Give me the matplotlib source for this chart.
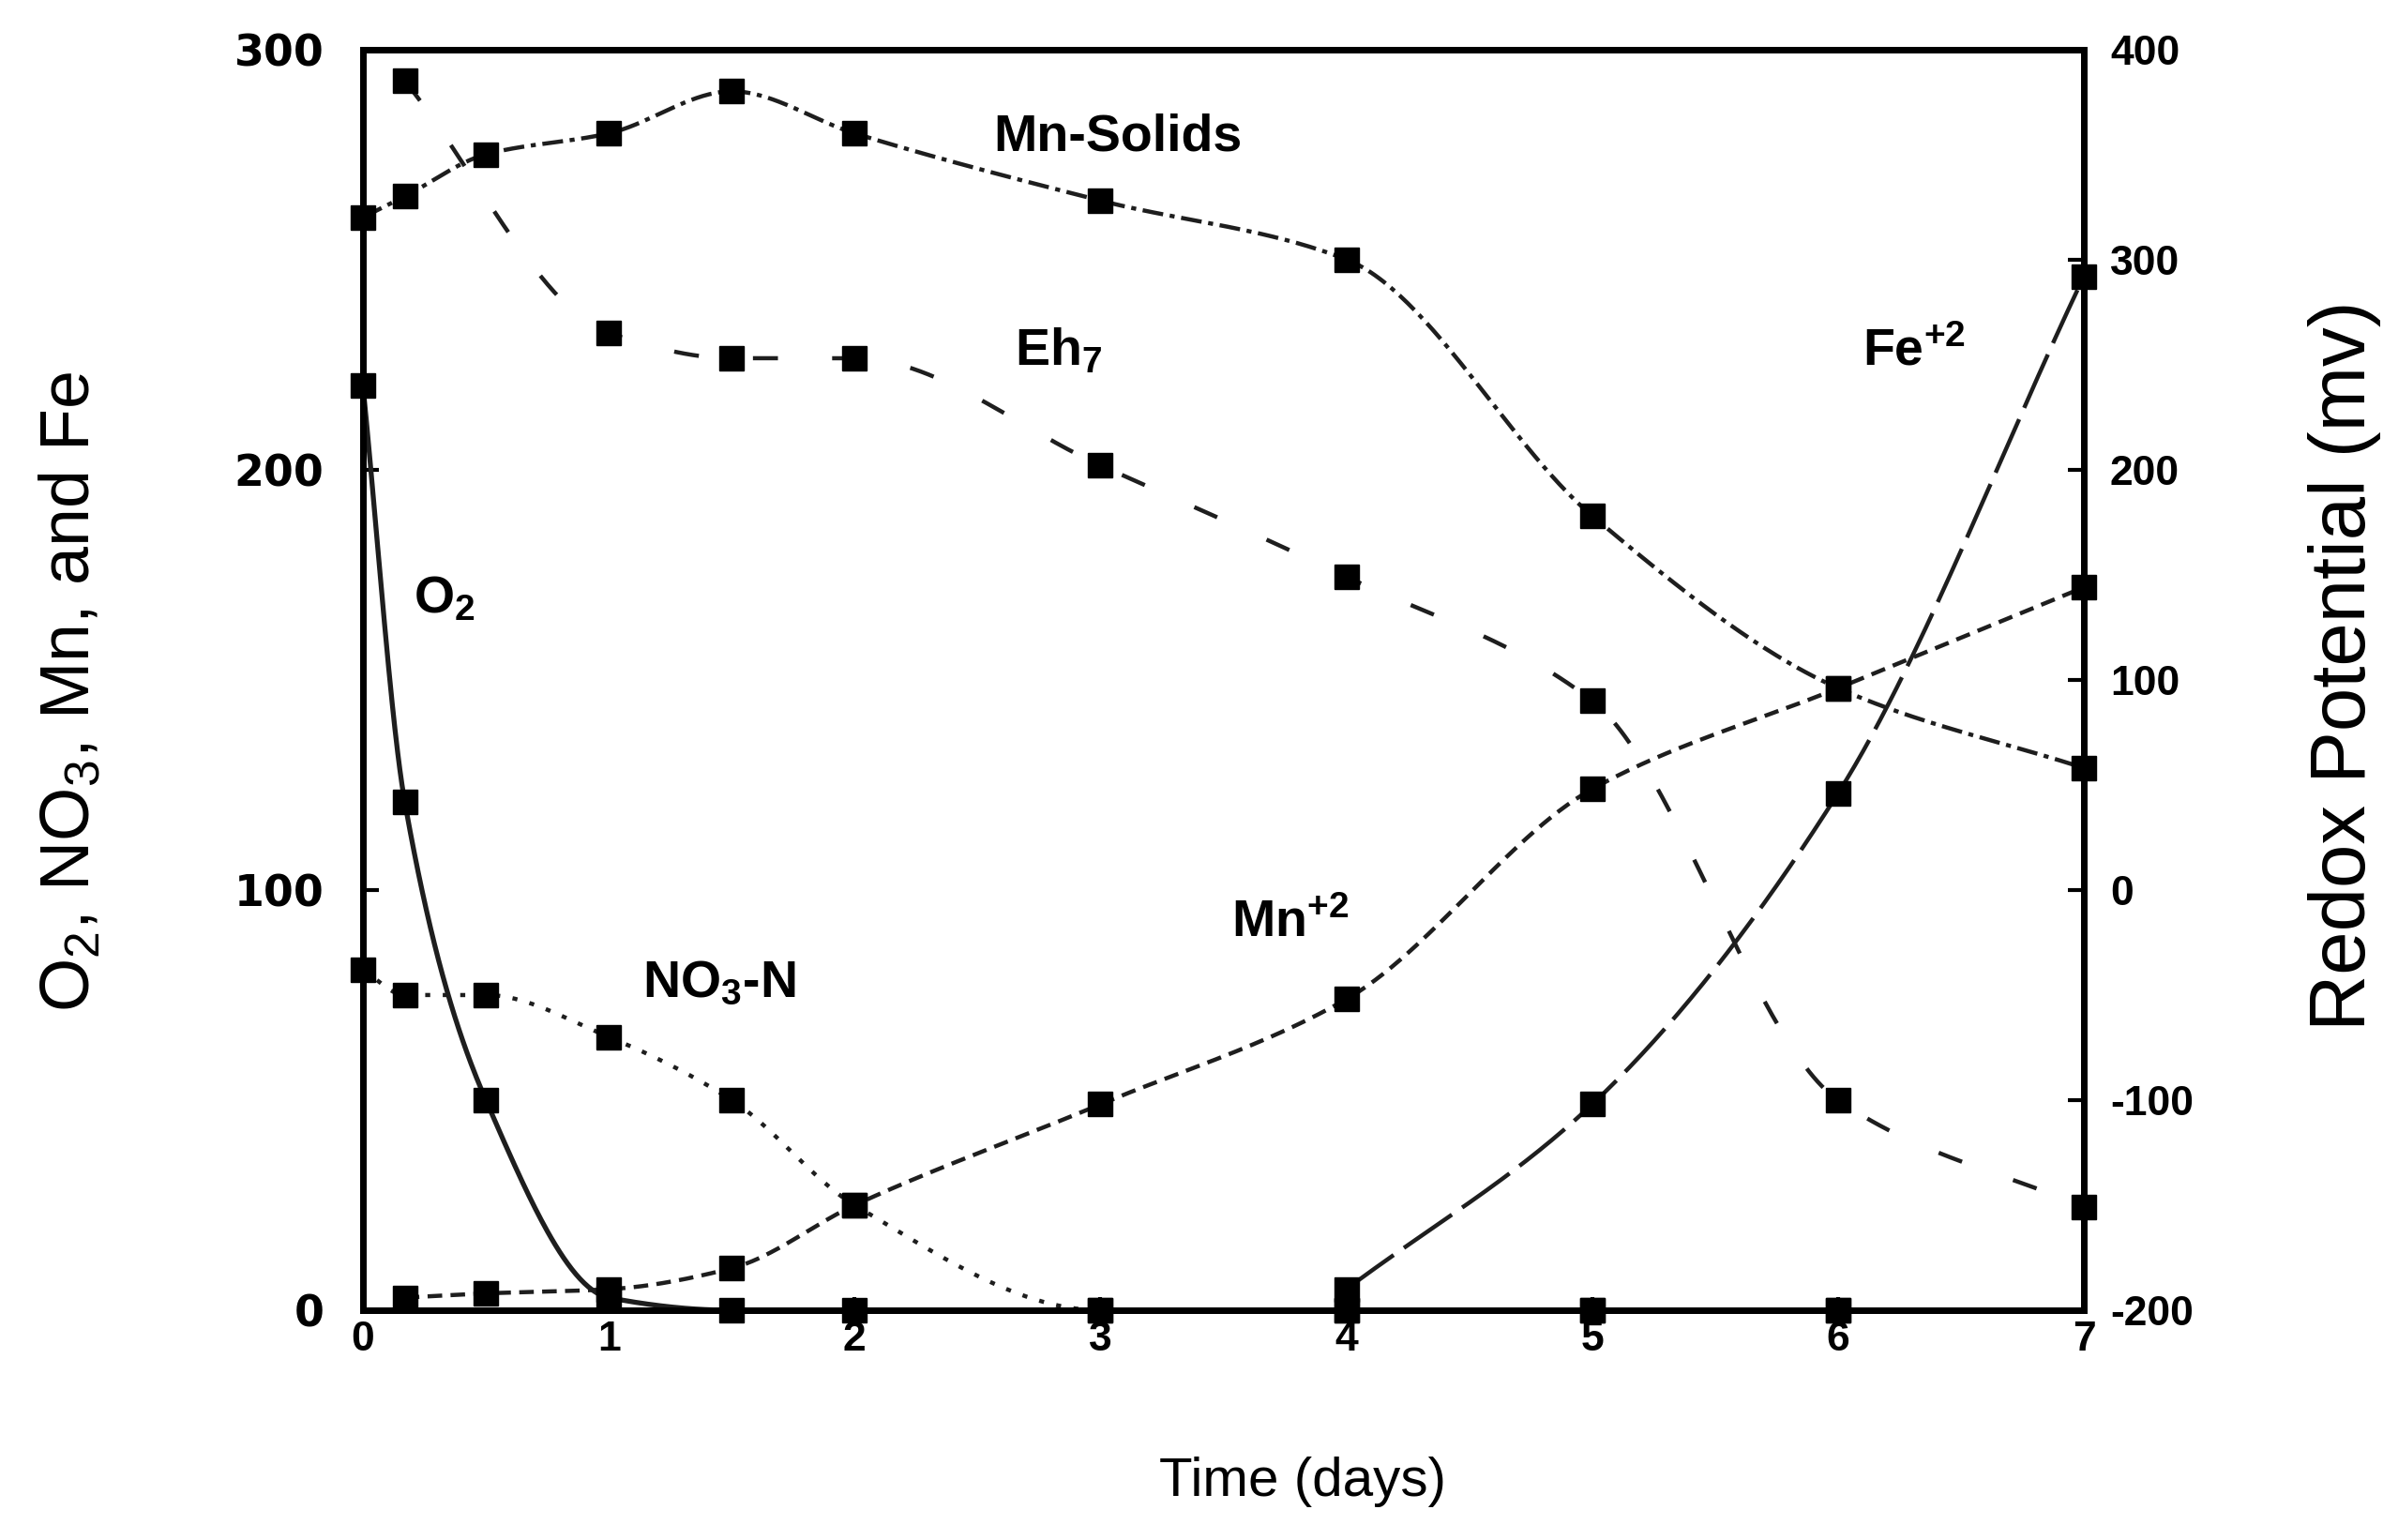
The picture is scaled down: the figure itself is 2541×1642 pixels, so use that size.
import numpy as np
import matplotlib
matplotlib.use('Agg')
import matplotlib.pyplot as plt

plt.rcParams['font.family'] = ['Liberation Sans', 'DejaVu Sans']
plt.rcParams['axes.unicode_minus'] = False
plt.rcParams['mathtext.fontset'] = 'custom'
plt.rcParams['mathtext.rm'] = 'Liberation Sans'
plt.rcParams['mathtext.it'] = 'Liberation Sans:italic'
plt.rcParams['mathtext.bf'] = 'Liberation Sans:bold'

# ---------------- data ----------------
t_o2 = [0, 0.17, 0.5, 1, 1.5, 2, 3, 4, 5, 6]
o2 = [220, 121, 50, 3, 0, 0, 0, 0, 0, 0]

t_no3 = [0, 0.17, 0.5, 1, 1.5, 2, 3, 4, 5, 6]
no3_n = [81, 75, 75, 65, 50, 25, 0, 0, 0, 0]

t_mn2 = [0.17, 0.5, 1, 1.5, 2, 3, 4, 5, 6, 7]
mn2 = [3, 4, 5, 10, 25, 49, 74, 124, 148, 172]

t_mns = [0, 0.17, 0.5, 1, 1.5, 2, 3, 4, 5, 6, 7]
mn_solids = [260, 265, 275, 280, 290, 280, 264, 250, 189, 148, 129]

t_fe = [4, 5, 6, 7]
fe2 = [5, 49, 123, 246]

t_eh = [0.17, 1, 1.5, 2, 3, 4, 5, 6, 7]
eh7 = [385, 265, 253, 253, 202, 149, 90, -100, -151]

x_ticks = [0, 1, 2, 3, 4, 5, 6, 7]
left_ticks = [0, 100, 200, 300]
right_ticks = [-200, -100, 0, 100, 200, 300, 400]

x_label = 'Time (days)'
left_label = r'O$_2$, NO$_3$, Mn, and Fe'
right_label = 'Redox Potential (mv)'


def smooth(x, y, n=60):
    """Monotone cubic (PCHIP) rendering of a line through the data points."""
    x = np.asarray(x, float)
    y = np.asarray(y, float)
    h = np.diff(x)
    d = np.diff(y) / h
    m = np.zeros_like(y)
    m[0], m[-1] = d[0], d[-1]
    for k in range(1, len(x) - 1):
        if d[k - 1] * d[k] > 0:
            w1 = 2 * h[k] + h[k - 1]
            w2 = h[k] + 2 * h[k - 1]
            m[k] = (w1 + w2) / (w1 / d[k - 1] + w2 / d[k])
    xs, ys = [], []
    for k in range(len(x) - 1):
        s = np.linspace(0, 1, n, endpoint=(k == len(x) - 2))
        h00 = 2 * s**3 - 3 * s**2 + 1
        h10 = s**3 - 2 * s**2 + s
        h01 = -2 * s**3 + 3 * s**2
        h11 = s**3 - s**2
        xs.append(x[k] + s * h[k])
        ys.append(h00 * y[k] + h10 * h[k] * m[k] + h01 * y[k + 1] + h11 * h[k] * m[k + 1])
    return np.concatenate(xs), np.concatenate(ys)


fig = plt.figure(figsize=(25.41, 16.42), dpi=100)
ax = fig.add_axes([0.1523, 0.1492, 0.7222, 0.8188])
ax2 = ax.twinx()

line_col = '#1e1e1e'
LW = 3.2
MS = 19

series_left = [
    (t_o2, o2, '-', 3.8),
    (t_no3, no3_n, (0, (1.2, 3.0)), LW),
    (t_mn2, mn2, (0, (3.5, 2.0)), LW),
    (t_mns, mn_solids, (0, (5.0, 1.6, 1.2, 1.6)), LW),
    (t_fe, fe2, (0, (14, 3)), LW),
]
for t, v, ls, lw in series_left:
    xs, ys = smooth(t, v)
    ax.plot(xs, ys, color=line_col, lw=lw, linestyle=ls, zorder=3)
    ax.plot(t, v, 's', color='black', ms=MS, zorder=5, clip_on=False)

xs, ys = smooth(t_eh, eh7)
ax2.plot(xs, ys, color=line_col, lw=LW, linestyle=(0, (6, 13)), zorder=3)
ax2.plot(t_eh, eh7, 's', color='black', ms=MS, zorder=5, clip_on=False)

ax.set_xlim(0, 7)
ax.set_ylim(0, 300)
ax2.set_ylim(-200, 400)

ax.set_xticks(x_ticks, labels=[str(v) for v in x_ticks], fontsize=32, fontweight='bold')
ax.set_yticks(left_ticks, labels=[str(v) for v in left_ticks], fontsize=33,
              fontweight='bold', fontfamily='DejaVu Sans')
ax2.set_yticks(right_ticks, labels=[str(v) for v in right_ticks], fontsize=32, fontweight='bold')

ax.tick_params(axis='x', direction='in', length=10, width=3, pad=8)
ax.tick_params(axis='y', direction='in', length=12, width=3, pad=30)
ax2.tick_params(axis='y', direction='in', length=12, width=3, pad=20)

for a in (ax, ax2):
    for sp in a.spines.values():
        sp.set_linewidth(5)
        sp.set_color('black')

# in-plot annotations
ann_kw = dict(fontsize=40, fontweight='bold', ha='center', va='center', zorder=6)
ax.text(3.07, 279, 'Mn-Solids', **ann_kw)
ax.text(2.83, 228, r'Eh$_{\mathbf{7}}$', **ann_kw)
ax.text(6.31, 228, r'Fe$^{\mathbf{+2}}$', **ann_kw)
ax.text(0.33, 169, r'O$_{\mathbf{2}}$', **ann_kw)
ax.text(1.45, 77.6, r'NO$_{\mathbf{3}}$-N', **ann_kw)
ax.text(3.77, 92, r'Mn$^{\mathbf{+2}}$', **ann_kw)

fig.text(0.5466, 0.0378, x_label, fontsize=42, ha='center', va='center')
fig.text(0.0295, 0.551, left_label, fontsize=53, rotation=90, ha='center', va='center')
fig.text(0.984, 0.568, right_label, fontsize=60, rotation=90, ha='center', va='center')

fig.savefig('out.png', dpi=100)
